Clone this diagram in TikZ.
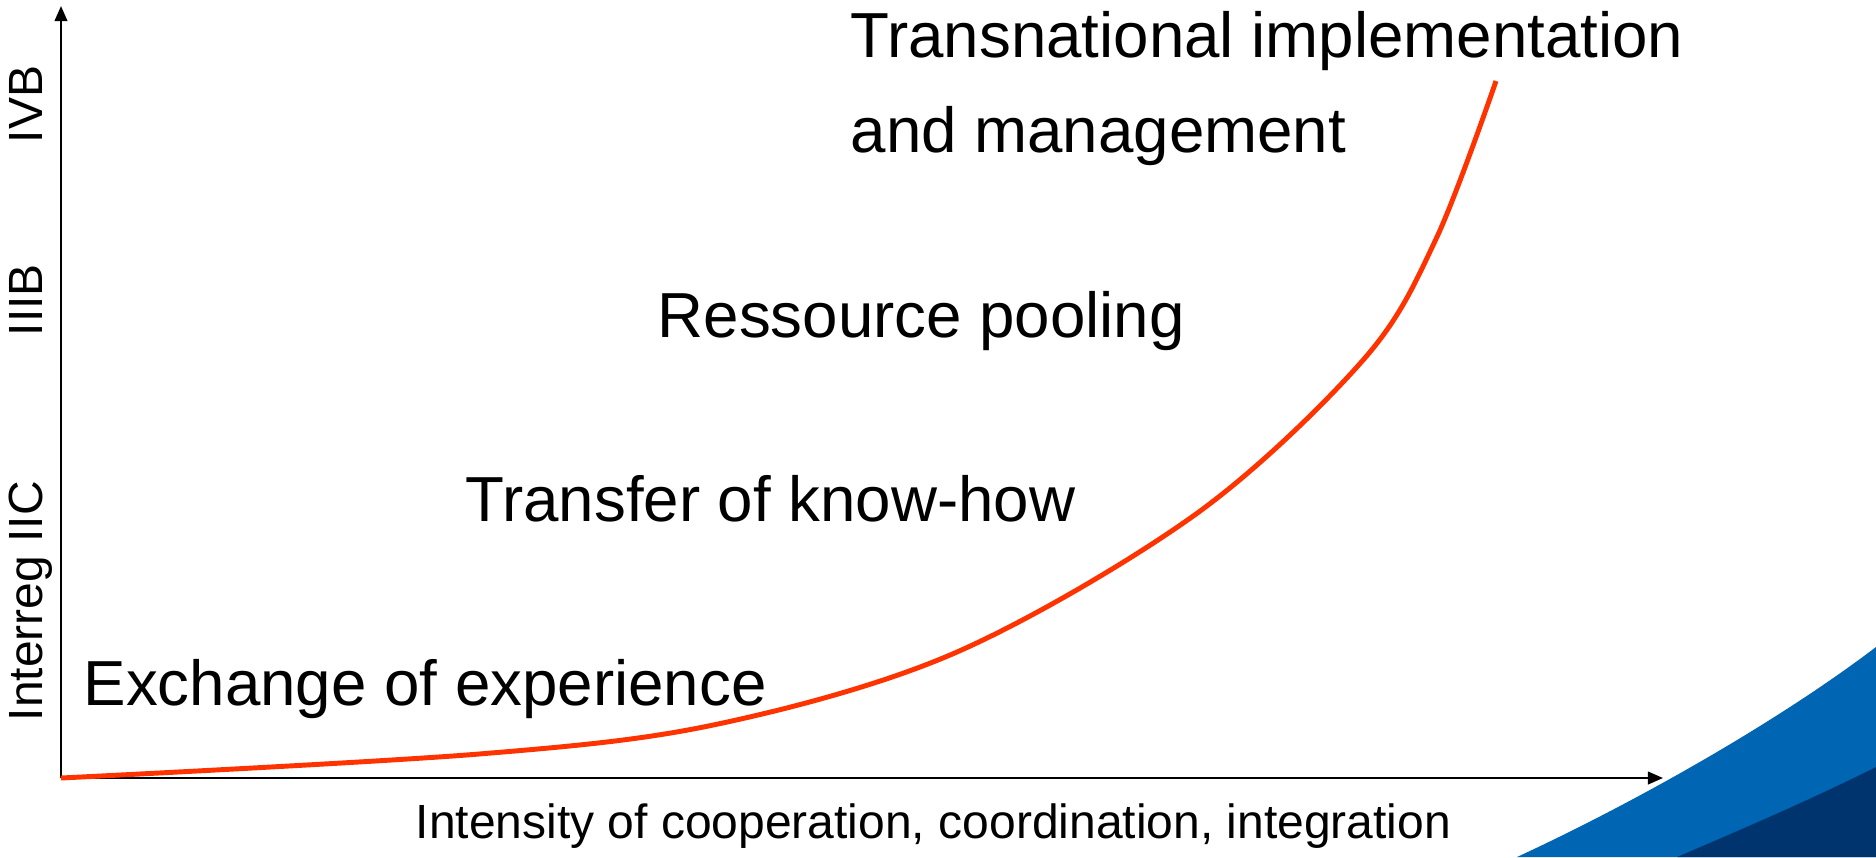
\documentclass[tikz,border=0pt]{standalone}
\usepackage{fontspec}
\setmainfont{Liberation Sans}
\usetikzlibrary{arrows.meta}
\definecolor{curvered}{RGB}{255,51,0}
\definecolor{swooshlight}{RGB}{0,102,179}
\definecolor{swooshdark}{RGB}{0,52,110}
\newcommand{\stageFont}{\fontsize{18.1}{22}\selectfont}
\newcommand{\axisFont}{\fontsize{13.65}{17}\selectfont}

\begin{document}
\begin{tikzpicture}[x=0.01cm, y=-0.01cm,
  axis/.style={line width=0.6pt, -{Triangle[length=4.3pt, width=3.6pt]}},
  stage/.style={anchor=base west, inner sep=0pt, font=\stageFont},
  level/.style={anchor=base west, inner sep=0pt, rotate=90, font=\axisFont}]
  \useasboundingbox (0,0) rectangle (1876,857);
  % swoosh in the corner
  \fill[swooshlight] (1517,857) .. controls (1640,800) and (1780,720) .. (1876,647) -- (1876,857) -- cycle;
  \fill[swooshdark] (1677,857) .. controls (1740,830) and (1810,800) .. (1876,767) -- (1876,857) -- cycle;
  % axes
  \coordinate (O) at (61,778);
  \coordinate (ytop) at (61,6);
  \coordinate (xend) at (1663,778);
  \draw[axis] (O) -- (ytop);
  \draw[axis] (O) -- (xend);
  % growth curve
  \draw[curvered, line width=1.4pt] plot[smooth, tension=0.55] coordinates {
    (61,778) (479,754) (718,724) (957,652) (1196,514) (1364,359) (1436,239) (1496,81)};
  % stages
  \node[stage] (exch) at (83,705) {Exchange of experience};
  \node[stage] (trans) at (465,521) {Transfer of know-how};
  \node[stage] (pool) at (657,337) {Ressource pooling};
  \node[stage] (impl) at (850,57) {Transnational implementation};
  \node[stage] (mgmt) at (850,152) {and management};
  % axis labels
  \node[anchor=base west, inner sep=0pt, font=\axisFont] (xlab) at (415,838) {Intensity of cooperation, coordination, integration};
  \node[level] (iic) at (42,722) {Interreg IIC};
  \node[level] (iiib) at (42,337) {IIIB};
  \node[level] (ivb) at (42,144) {IVB};
\end{tikzpicture}
\end{document}
